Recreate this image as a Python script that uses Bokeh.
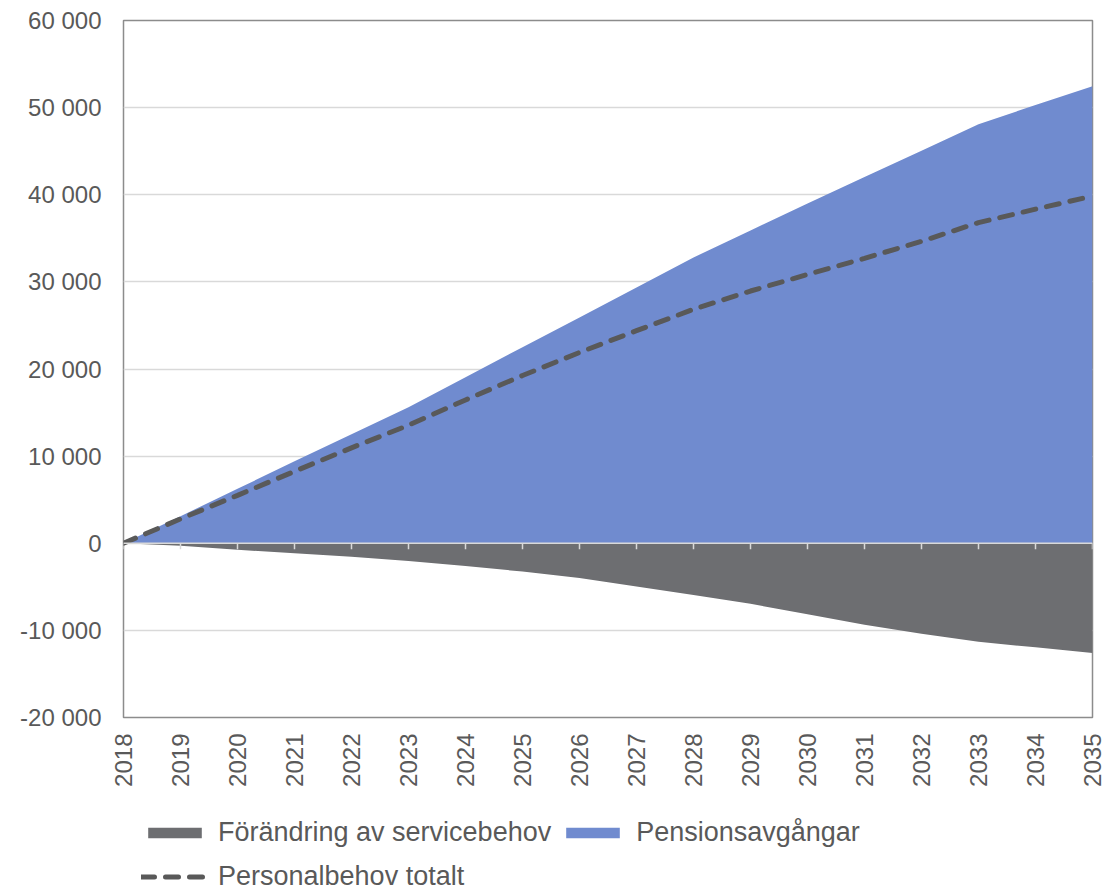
from math import pi
from bokeh.plotting import figure
from bokeh.layouts import column
from bokeh.models import (Range1d, FixedTicker, CustomJSTickFormatter, Legend,
                          LegendItem, ColumnDataSource, Span)
from bokeh.embed import file_html
from bokeh.resources import INLINE

# ---- data -------------------------------------------------------------
years = list(range(2018, 2036))
pension = [0, 3100, 6250, 9400, 12500, 15600, 19050, 22500, 25900, 29350,
           32800, 35900, 39000, 42050, 45050, 48100, 50300, 52450]
service = [0, -300, -750, -1150, -1550, -2050, -2600, -3250, -4000, -4950,
           -5950, -6950, -8150, -9350, -10400, -11300, -11950, -12600]
total = [0, 2800, 5500, 8250, 10950, 13550, 16450, 19250, 21900, 24400,
         26850, 28950, 30850, 32700, 34650, 36800, 38350, 39850]
y_ticks = [-20000, -10000, 0, 10000, 20000, 30000, 40000, 50000, 60000]
labels = ["Förändring av servicebehov", "Pensionsavgångar", "Personalbehov totalt"]

# ---- styles -----------------------------------------------------------
BLUE = "#708BCF"
GRAY = "#6D6E71"
DASH = "#595959"
TEXT = "#595959"
GRID = "#D9D9D9"
FONT = "Liberation Sans"
TICK_LEN = 700  # length of the small category ticks on the zero line (data units)

src = ColumnDataSource(dict(
    year=years, pension=pension, service=service, total=total,
    zero=[0] * len(years), tick_end=[-TICK_LEN] * len(years),
))

W = 1111
p = figure(width=W, height=800,
           x_range=Range1d(years[0], years[-1]),
           y_range=Range1d(y_ticks[0], y_ticks[-1]),
           output_backend="svg", toolbar_location=None,
           min_border_left=123, min_border_right=19,
           min_border_top=20, min_border_bottom=83)

p.background_fill_color = "white"
p.border_fill_color = "white"
p.outline_line_color = "#8C8C8C"
p.outline_line_width = 1.5

r_blue = p.varea(x="year", y1="zero", y2="pension", fill_color=BLUE, source=src)
r_gray = p.varea(x="year", y1="zero", y2="service", fill_color=GRAY, source=src)

p.add_layout(Span(location=0, dimension="width", line_color=GRID, line_width=1.5))
p.segment(x0="year", y0="zero", x1="year", y1="tick_end", line_color=GRID,
          line_width=1.5, source=src)

line_style = dict(line_color=DASH, line_width=5, line_dash="13 11", line_cap="round")
r_line = p.line(x="year", y="total", source=src, **line_style)

# ---- axes -------------------------------------------------------------
p.xaxis.ticker = FixedTicker(ticks=years)
p.xaxis.major_label_orientation = pi / 2
p.xaxis.axis_line_color = None
p.xaxis.major_tick_line_color = None
p.xaxis.minor_tick_line_color = None
p.xaxis.major_label_standoff = 10
p.xaxis.major_label_text_font = FONT
p.xaxis.major_label_text_font_size = "24px"
p.xaxis.major_label_text_color = TEXT

p.yaxis.ticker = FixedTicker(ticks=y_ticks)
p.yaxis.formatter = CustomJSTickFormatter(code="""
    const s = Math.abs(tick).toFixed(0).replace(/\\B(?=(\\d{3})+(?!\\d))/g, " ");
    return (tick < 0 ? "-" : "") + s;
""")
p.yaxis.axis_line_color = None
p.yaxis.major_tick_line_color = None
p.yaxis.minor_tick_line_color = None
p.yaxis.major_label_standoff = 16
p.yaxis.major_label_text_font = FONT
p.yaxis.major_label_text_font_size = "24px"
p.yaxis.major_label_text_color = TEXT

p.xgrid.grid_line_color = None
p.ygrid.ticker = FixedTicker(ticks=y_ticks)
p.ygrid.grid_line_color = GRID
p.ygrid.grid_line_width = 1.5

# ---- legend (own strip under the chart) -------------------------------
lg = figure(width=W, height=90, x_range=Range1d(0, 1), y_range=Range1d(10**7, 2 * 10**7),
            output_backend="svg", toolbar_location=None,
            x_axis_location=None, y_axis_location=None,
            min_border=0, outline_line_color=None)
lg.xgrid.grid_line_color = None
lg.ygrid.grid_line_color = None
l_gray = lg.varea(x="year", y1="zero", y2="service", fill_color=GRAY, source=src)
l_blue = lg.varea(x="year", y1="zero", y2="pension", fill_color=BLUE, source=src)
l_line = lg.line(x="year", y="total", source=src, **line_style)

legend = Legend(
    items=[LegendItem(label=labels[0], renderers=[l_gray]),
           LegendItem(label=labels[1], renderers=[l_blue]),
           LegendItem(label=labels[2], renderers=[l_line])],
    location=(18, -4), orientation="horizontal", ncols=2,
    border_line_color=None, background_fill_alpha=0,
    label_text_font=FONT, label_text_font_size="27px", label_text_color=TEXT,
    glyph_width=67, glyph_height=13, label_standoff=10, spacing=8,
    padding=0, margin=0, label_height=36,
)
lg.add_layout(legend)

open("out.html", "w").write(file_html(column(p, lg), INLINE))
